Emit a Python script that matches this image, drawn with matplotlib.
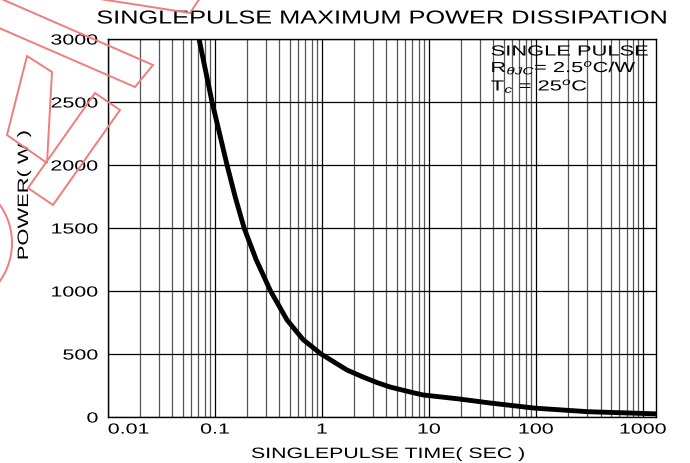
import numpy as np
import matplotlib
matplotlib.use('Agg')
import matplotlib.pyplot as plt
from matplotlib.patheffects import AbstractPathEffect
from matplotlib.transforms import Affine2D
from matplotlib.patches import Polygon, Circle
from matplotlib.ticker import LogLocator, NullFormatter

# ---- data ----
time_s = [0.0709, 0.0938, 0.1295, 0.154, 0.187, 0.242, 0.330, 0.471, 0.664, 0.979,
          1.71, 2.42, 3.27, 4.32, 7.08, 8.79, 18.3, 37.2, 98, 306, 1320]
power_w = [3000, 2500, 2000, 1750, 1500, 1250, 1000, 770, 615, 500,
           373, 317, 273, 238, 193, 175, 145, 111, 70, 42, 25]

x_ticks = [0.01, 0.1, 1, 10, 100, 1000]
x_tick_labels = ['0.01', '0.1', '1', '10', '100', '1000']
y_ticks = [0, 500, 1000, 1500, 2000, 2500, 3000]
y_tick_labels = ['0', '500', '1000', '1500', '2000', '2500', '3000']

title = 'SINGLEPULSE MAXIMUM POWER DISSIPATION'
x_label = 'SINGLEPULSE TIME( SEC )'
y_label = 'POWER( W )'
note_lines = ['SINGLE PULSE', r'R$_{\theta JC}$= 2.5$^{o}$C/W', r'T$_{c}$ = 25$^{o}$C']

plt.rcParams['font.family'] = ['Liberation Sans', 'DejaVu Sans']
plt.rcParams['mathtext.fontset'] = 'custom'
plt.rcParams['mathtext.rm'] = 'Liberation Sans'
plt.rcParams['mathtext.it'] = 'Liberation Sans:italic'
plt.rcParams['mathtext.bf'] = 'Liberation Sans:bold'


class StretchText(AbstractPathEffect):
    """Draw text glyphs horizontally stretched (wide lettering of the original)."""
    def __init__(self, sx, anchor='center'):
        super().__init__()
        self.sx = sx
        self.anchor = anchor

    def draw_path(self, renderer, gc, tpath, affine, rgbFace=None):
        ext = tpath.get_extents()
        if self.anchor == 'left':
            a = ext.x0
        elif self.anchor == 'right':
            a = ext.x1
        else:
            a = 0.5 * (ext.x0 + ext.x1)
        tr = Affine2D().translate(-a, 0).scale(self.sx, 1).translate(a, 0) + affine
        renderer.draw_path(gc, tpath, tr, rgbFace)


W, H = 690, 463
fig = plt.figure(figsize=(W / 100, H / 100), dpi=100)
fig.patch.set_facecolor('white')

L, R, T, B = 108, 656, 39, 417
ax = fig.add_axes([L / W, (H - B) / H, (R - L) / W, (B - T) / H])
ax.set_xscale('log')
ax.set_xlim(0.01, 1320)
ax.set_ylim(0, 3000)

ax.set_xticks(x_ticks, x_tick_labels)
ax.set_yticks(y_ticks, y_tick_labels)
ax.xaxis.set_minor_locator(LogLocator(base=10, subs=np.arange(2, 10), numticks=30))
ax.xaxis.set_minor_formatter(NullFormatter())
ax.tick_params(which='both', length=0)
ax.tick_params(axis='y', pad=7, labelsize=10.5)
ax.tick_params(axis='x', pad=4, labelsize=10.5)

ax.grid(which='major', axis='both', color='black', lw=0.9)
ax.grid(which='minor', axis='x', color='#555555', lw=0.9)
ax.set_axisbelow(True)
for sp in ax.spines.values():
    sp.set_color('black')
    sp.set_linewidth(1.0)

ax.plot(time_s, power_w, color='black', lw=3.5, solid_capstyle='butt',
        solid_joinstyle='round', zorder=3)

SX = 1.47
for lbl in ax.get_yticklabels():
    lbl.set_path_effects([StretchText(SX, 'right')])
xl = ax.get_xticklabels()
for lbl in xl:
    lbl.set_path_effects([StretchText(SX, 'center')])
xl[0].set_horizontalalignment('left')
xl[0].set_path_effects([StretchText(SX, 'left')])

# axis labels
ax.set_xlabel(x_label, fontsize=10.8)
ax.xaxis.label.set_verticalalignment('baseline')
ax.xaxis.set_label_coords((388 - L) / (R - L), (B - 458) / (B - T))
ax.xaxis.label.set_path_effects([StretchText(1.42, 'center')])

ax.set_ylabel(y_label, fontsize=10.8)
ax.yaxis.label.set_verticalalignment('baseline')
ax.yaxis.set_label_coords((28 - L) / (R - L), (B - 195) / (B - T))
ax.yaxis.label.set_path_effects([StretchText(1.46, 'center')])

# title
fig.text(382 / W, 1 - 23.5 / H, title, ha='center', va='baseline', fontsize=13.5,
         path_effects=[StretchText(1.35, 'center')])

# note block (one multi-line text)
ax.text((491 - L) / (R - L), (B - 44.5) / (B - T), '\n'.join(note_lines),
        transform=ax.transAxes, ha='left', va='top', fontsize=10.5,
        linespacing=1.0, zorder=4, path_effects=[StretchText(1.5, 'left')])

# faint red watermark outlines (top-left corner)
pix = Affine2D().scale(1 / W, -1 / H).translate(0, 1) + fig.transFigure
wm = '#f27c7c'
shapes = [
    [(-10, -6), (153, 65), (135, 87), (-10, 24)],
    [(27, 56), (52, 72), (47, 163), (7, 135)],
    [(95, 93), (120, 110), (53, 205), (28, 188)],
]
for pts in shapes:
    fig.add_artist(Polygon(pts, closed=True, fill=False, edgecolor=wm, lw=1.4,
                           transform=pix, zorder=5))
fig.add_artist(Polygon([(55, -8), (190, 13), (204, -8)], closed=False, fill=False,
                       edgecolor=wm, lw=1.4, transform=pix, zorder=5))
fig.add_artist(Circle((-54, 243), 66, fill=False, edgecolor=wm, lw=1.4,
                      transform=pix, zorder=5))

fig.savefig('out.png', dpi=100, facecolor='white')
